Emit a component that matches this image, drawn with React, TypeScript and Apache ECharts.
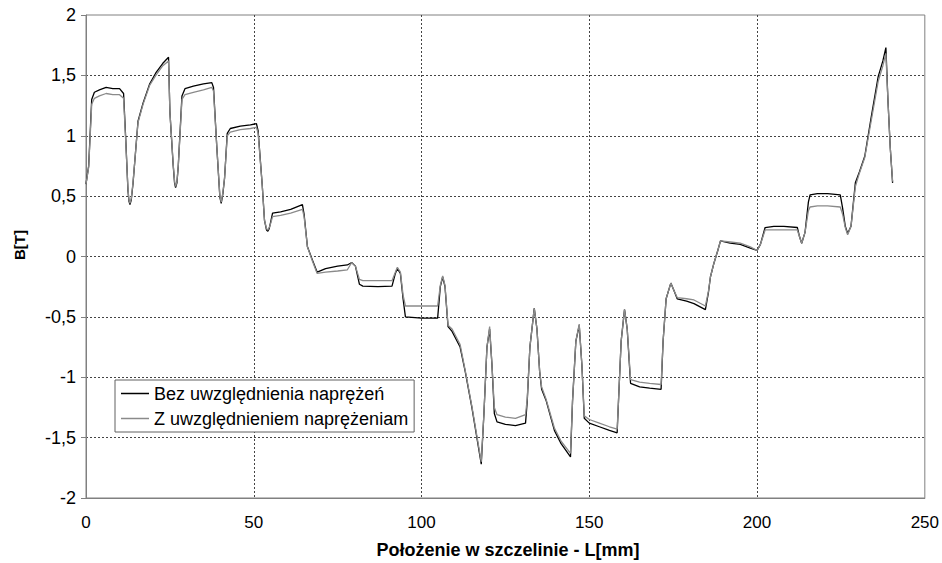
import React, { useEffect, useRef } from "react";
import * as echarts from "echarts";

const positions = [
  0, 0.8, 1.7, 2.5, 4, 6, 8, 10, 11.2, 11.8, 12.5, 12.8, 13.1, 13.5, 14, 15.5, 17, 19, 20.8, 22.9, 24.6, 25, 26, 26.4, 26.7, 27.1, 27.5,
  28.6, 29.5, 32, 35, 37.5, 38, 39, 39.9, 40.3, 40.8, 41.3, 42.1, 43, 46, 49, 50.8, 51.3, 52.5, 53.2, 53.8, 54.2, 54.6, 55, 55.6, 58, 61,
  64.5, 65, 66, 67.5, 68.9, 71.4, 75, 77.9, 79.2, 80.3, 81.5, 82.5, 87, 91.2, 92.2, 92.8, 93.7, 94.5, 95.2, 100,
  104.8, 105.6, 106.3, 107, 107.9, 109.1, 111.5, 113, 115, 117.8, 118.6, 119.5, 120.3, 121, 121.7, 122.5, 125, 128,
  131, 131.5, 132.3, 133.6, 134.4, 135.2, 135.8, 137.1, 139.6, 141.6, 144.4, 145, 146, 147, 147.8, 148.5, 150, 153,
  156, 158.3, 158.7, 159.5, 160.5, 161.3, 162.3, 165, 168, 171.4, 172, 172.9, 174.3, 175.2, 176.2, 179, 181.2, 184.6,
  185.5, 186.1, 187.1, 188.3, 189.1, 192, 195, 198, 200, 201, 202.4, 205, 208, 212, 212.6, 213.3, 214.3, 215.3,
  215.8, 218, 221, 224.8, 225.5, 226.3, 227, 228, 229.3, 230.5, 232.1, 234, 236.1, 237.5, 238.4, 239, 239.7, 240.4,
];

const bezValues = [
  0.6, 0.75, 1.3, 1.36, 1.38, 1.4, 1.39, 1.39, 1.35, 1.0, 0.55, 0.46, 0.43, 0.47, 0.6, 1.12, 1.27, 1.43, 1.52, 1.6, 1.65, 1.2, 0.75, 0.61, 0.57, 0.61, 0.75,
  1.33, 1.39, 1.41, 1.43, 1.44, 1.4, 0.9, 0.49, 0.44, 0.52, 0.65, 1.02, 1.06, 1.08, 1.09, 1.1, 1.04, 0.6, 0.3, 0.22, 0.21, 0.23, 0.28, 0.36, 0.37, 0.39,
  0.43, 0.35, 0.08, -0.03, -0.13, -0.1, -0.08, -0.07, -0.05, -0.08, -0.23, -0.245, -0.25, -0.245, -0.14, -0.1, -0.14, -0.35, -0.5, -0.51,
  -0.51, -0.25, -0.17, -0.25, -0.58, -0.62, -0.75, -0.95, -1.25, -1.72, -1.3, -0.75, -0.6, -0.9, -1.3, -1.37, -1.39, -1.4,
  -1.38, -1.2, -0.75, -0.43, -0.6, -0.95, -1.1, -1.19, -1.44, -1.55, -1.66, -1.2, -0.7, -0.57, -0.9, -1.34, -1.38, -1.41,
  -1.44, -1.46, -1.2, -0.7, -0.44, -0.6, -1.05, -1.08, -1.09, -1.1, -0.7, -0.35, -0.22, -0.28, -0.35, -0.37, -0.39, -0.44,
  -0.3, -0.17, -0.06, 0.05, 0.13, 0.11, 0.1, 0.07, 0.05, 0.1, 0.24, 0.25, 0.25, 0.24, 0.17, 0.11, 0.2, 0.45,
  0.51, 0.52, 0.52, 0.51, 0.4, 0.25, 0.19, 0.25, 0.61, 0.7, 0.83, 1.15, 1.49, 1.62, 1.73, 1.3, 0.9, 0.61,
];

const zValues = [
  0.6, 0.74, 1.26, 1.31, 1.33, 1.35, 1.34, 1.34, 1.31, 0.98, 0.56, 0.47, 0.44, 0.48, 0.61, 1.11, 1.26, 1.42, 1.5, 1.58, 1.62, 1.2, 0.76, 0.62, 0.58, 0.62, 0.75,
  1.3, 1.34, 1.36, 1.38, 1.4, 1.37, 0.9, 0.5, 0.45, 0.53, 0.65, 1.0, 1.03, 1.05, 1.06, 1.07, 1.02, 0.6, 0.3, 0.23, 0.22, 0.24, 0.27, 0.33, 0.34, 0.36,
  0.39, 0.33, 0.08, -0.04, -0.14, -0.13, -0.12, -0.11, -0.05, -0.08, -0.19, -0.2, -0.2, -0.2, -0.13, -0.09, -0.13, -0.32, -0.41, -0.41,
  -0.41, -0.24, -0.16, -0.24, -0.57, -0.6, -0.73, -0.94, -1.24, -1.7, -1.3, -0.75, -0.58, -0.9, -1.25, -1.31, -1.33, -1.34,
  -1.31, -1.18, -0.75, -0.43, -0.6, -0.95, -1.08, -1.18, -1.42, -1.53, -1.63, -1.2, -0.7, -0.56, -0.9, -1.32, -1.35, -1.38,
  -1.41, -1.43, -1.2, -0.7, -0.44, -0.6, -1.02, -1.04, -1.05, -1.06, -0.7, -0.35, -0.22, -0.28, -0.34, -0.35, -0.36, -0.41,
  -0.29, -0.17, -0.06, 0.05, 0.13, 0.12, 0.11, 0.08, 0.05, 0.1, 0.22, 0.22, 0.22, 0.22, 0.17, 0.11, 0.2, 0.38,
  0.41, 0.42, 0.42, 0.41, 0.35, 0.24, 0.18, 0.25, 0.58, 0.69, 0.82, 1.12, 1.45, 1.58, 1.68, 1.3, 0.9, 0.62,
];

const seriesNames = ["Bez uwzględnienia naprężeń", "Z uwzględnieniem naprężeniam"];
const xTitle = "Położenie w szczelinie - L[mm]";
const yTitle = "B[T]";

const FONT = "Liberation Sans, Arial, sans-serif";

export default function App() {
  const ref = useRef<HTMLDivElement>(null);
  useEffect(() => {
    if (!ref.current) return;
    const chart = echarts.init(ref.current, undefined, { renderer: "svg" });
    const bez = positions.map((x, i) => [x, bezValues[i]]);
    const z = positions.map((x, i) => [x, zValues[i]]);
    const fmt = (v: number) => String(v).replace(".", ",");
    chart.setOption({
      animation: false,
      backgroundColor: "#ffffff",
      textStyle: { fontFamily: FONT },
      grid: {
        left: 86,
        right: 14,
        top: 15,
        bottom: 65,
        show: true,
        borderColor: "#808080",
        borderWidth: 1,
        backgroundColor: "#ffffff",
      },
      legend: {
        orient: "vertical",
        left: 115,
        top: 380,
        padding: [3, 6, 3, 6],
        itemGap: 4,
        itemWidth: 28,
        itemHeight: 1.5,
        icon: "rect",
        backgroundColor: "#ffffff",
        borderColor: "#606060",
        borderWidth: 1,
        borderRadius: 0,
        textStyle: { fontFamily: FONT, fontSize: 18, color: "#000", lineHeight: 21 },
        data: seriesNames,
      },
      xAxis: {
        type: "value",
        min: 0,
        max: 250,
        interval: 50,
        axisLine: { show: true, onZero: false, lineStyle: { color: "#808080", width: 1 } },
        axisTick: { show: false },
        axisLabel: { color: "#000", fontSize: 17, fontFamily: FONT, margin: 16 },
        splitLine: {
          show: true,
          showMinLine: false,
          showMaxLine: false,
          lineStyle: { color: "#444", type: [2, 2], width: 1 },
        },
      },
      yAxis: {
        type: "value",
        min: -2,
        max: 2,
        interval: 0.5,
        axisLine: { show: true, lineStyle: { color: "#808080", width: 1 } },
        axisTick: { show: true, length: 5, lineStyle: { color: "#808080" } },
        axisLabel: { color: "#000", fontSize: 18, fontFamily: FONT, margin: 10, formatter: fmt },
        splitLine: {
          show: true,
          showMinLine: false,
          showMaxLine: false,
          lineStyle: { color: "#444", type: [2, 2], width: 1 },
        },
      },
      graphic: [
        {
          type: "text",
          x: 19,
          y: 245,
          rotation: Math.PI / 2,
          style: {
            text: yTitle,
            font: "bold 15px Liberation Sans, Arial, sans-serif",
            fill: "#000",
            align: "center",
            verticalAlign: "middle",
          },
        },
        {
          type: "text",
          x: 508,
          y: 550,
          style: {
            text: xTitle,
            font: "bold 18px Liberation Sans, Arial, sans-serif",
            fill: "#000",
            align: "center",
            verticalAlign: "middle",
          },
        },
      ],
      series: [
        {
          name: seriesNames[0],
          type: "line",
          data: bez,
          showSymbol: false,
          symbol: "none",
          color: "#000000",
          lineStyle: { color: "#000000", width: 1.3 },
        },
        {
          name: seriesNames[1],
          type: "line",
          data: z,
          showSymbol: false,
          symbol: "none",
          color: "#8a8a8a",
          lineStyle: { color: "#8a8a8a", width: 1.3 },
        },
      ],
    });
    return () => chart.dispose();
  }, []);
  return <div ref={ref} style={{ width: 942, height: 563, position: "absolute", left: 0, top: 0 }} />;
}
